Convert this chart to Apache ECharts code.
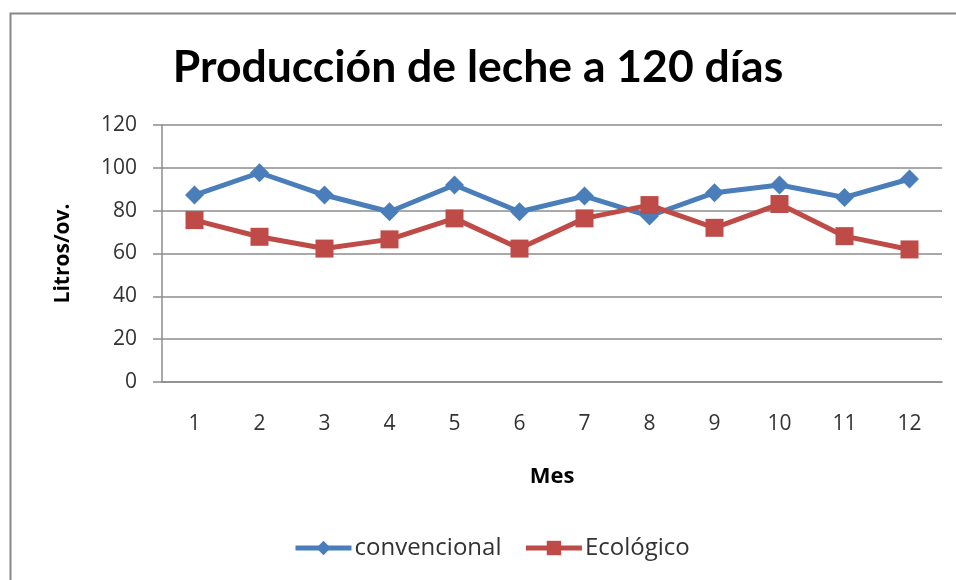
<!DOCTYPE html>
<html>
<head>
<meta charset="utf-8">
<script src="https://cdn.jsdelivr.net/npm/echarts@6/dist/echarts.min.js"></script>
<style>
  html, body { margin: 0; padding: 0; background: #fff; }
  #chart { width: 956px; height: 580px; }
</style>
</head>
<body>
<div id="chart"></div>
<script>
// data
const meses = ['1', '2', '3', '4', '5', '6', '7', '8', '9', '10', '11', '12'];
const convencional = [87.3, 97.7, 87.3, 79.5, 92, 79.5, 86.8, 77.5, 88.4, 92, 86.2, 94.8];
const ecologico = [75.6, 67.8, 62.3, 66.6, 76.4, 62.3, 76.4, 82.6, 72, 83.1, 68.1, 61.9];

const font = 'Open Sans';
const chart = echarts.init(document.getElementById('chart'));
chart.setOption({
  animation: false,
  backgroundColor: '#fff',
  graphic: [{
    type: 'polyline',
    shape: { points: [[10.5, 580], [10.5, 13.5], [956, 13.5]] },
    style: { stroke: '#888', lineWidth: 2, fill: null }
  }],
  title: {
    text: 'Producción de leche a 120 días',
    left: 'center',
    top: 40,
    textStyle: { fontFamily: 'Lato', fontWeight: 'bold', fontSize: 44.5, color: '#000' }
  },
  legend: {
    bottom: 15,
    left: 288,
    itemWidth: 56,
    itemHeight: 18,
    itemGap: 22,
    lineStyle: { width: 5 },
    textStyle: { fontFamily: font, fontSize: 24, color: '#333', padding: [0, 0, 0, -2] },
    data: ['convencional', 'Ecológico']
  },
  grid: { left: 162, right: 14, top: 125, height: 257 },
  xAxis: {
    type: 'category',
    data: meses,
    name: 'Mes',
    nameLocation: 'middle',
    nameGap: 84,
    nameTextStyle: { fontFamily: font, fontWeight: 'bold', fontSize: 22, color: '#000' },
    axisLine: { lineStyle: { color: '#8c8c8c', width: 1.5 } },
    axisTick: { show: false },
    axisLabel: { margin: 32, fontFamily: font, fontSize: 21, color: '#333' }
  },
  yAxis: {
    type: 'value',
    min: 0,
    max: 120,
    interval: 20,
    name: 'Litros/ov.',
    nameLocation: 'middle',
    nameGap: 88,
    nameTextStyle: { fontFamily: font, fontWeight: 'bold', fontSize: 21, color: '#000' },
    axisLine: { show: true, lineStyle: { color: '#8c8c8c', width: 1.5 } },
    axisTick: { show: true, length: 9, lineStyle: { color: '#8c8c8c', width: 1.5 } },
    axisLabel: { margin: 25, fontFamily: font, fontSize: 21, color: '#333' },
    splitLine: { lineStyle: { color: '#8c8c8c', width: 1.5 } }
  },
  series: [
    {
      name: 'convencional',
      type: 'line',
      data: convencional,
      symbol: 'diamond',
      symbolSize: 19,
      color: '#4a7ebb',
      lineStyle: { width: 5 }
    },
    {
      name: 'Ecológico',
      type: 'line',
      data: ecologico,
      symbol: 'rect',
      symbolSize: 18,
      color: '#be4b48',
      lineStyle: { width: 5 }
    }
  ]
});
</script>
</body>
</html>
